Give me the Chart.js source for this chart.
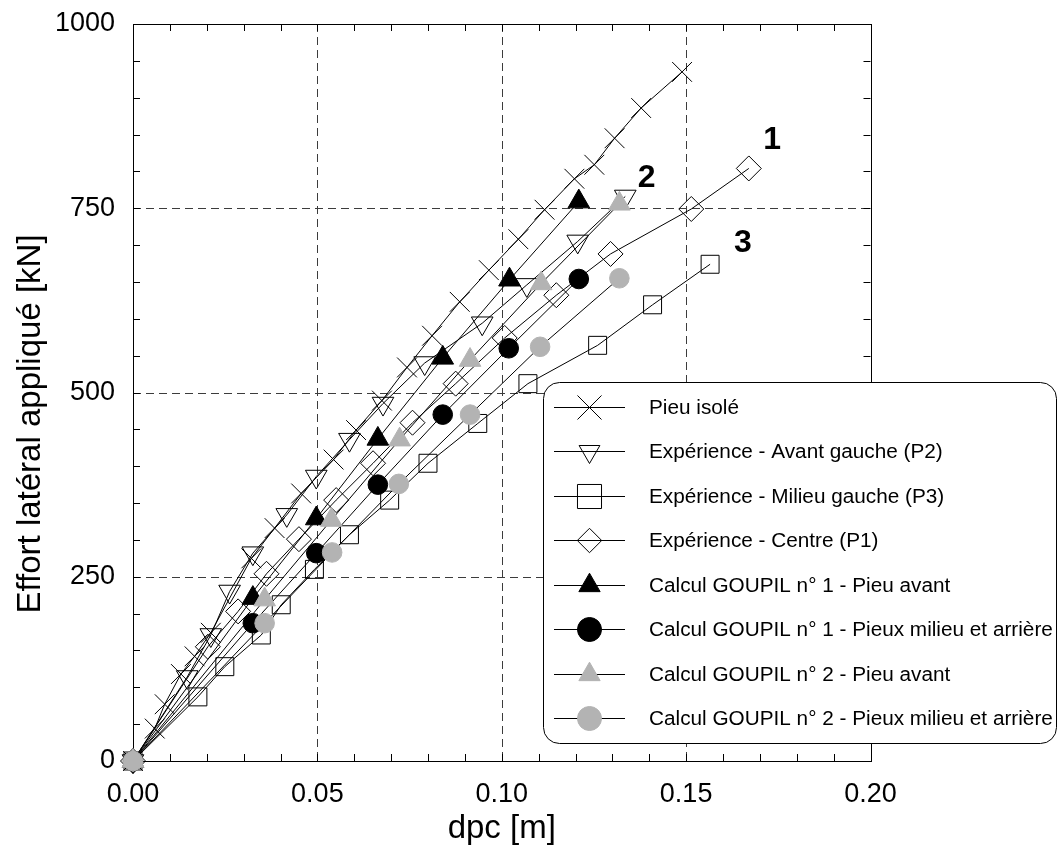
<!DOCTYPE html>
<html><head><meta charset="utf-8">
<script src="https://cdn.jsdelivr.net/npm/chart.js@4.4.0/dist/chart.umd.min.js"></script>
<style>html,body{margin:0;padding:0;background:#fff;}canvas{display:block;}</style>
</head><body>
<canvas id="c" width="1062" height="849"></canvas>
<script>
// ---- data ----
const seriesNames = [
  'Pieu isolé',
  'Expérience - Avant gauche (P2)',
  'Expérience - Milieu gauche (P3)',
  'Expérience - Centre (P1)',
  'Calcul GOUPIL n° 1 - Pieu avant',
  'Calcul GOUPIL n° 1 - Pieux milieu et arrière',
  'Calcul GOUPIL n° 2 - Pieu avant',
  'Calcul GOUPIL n° 2 - Pieux milieu et arrière'
];
const pieuIsoleX = [0, 0.0059, 0.0086, 0.0130, 0.0167, 0.0211, 0.0321, 0.0384, 0.0456, 0.0544, 0.0605, 0.0675, 0.0743, 0.0811, 0.0886, 0.0965, 0.1045, 0.1116, 0.1197, 0.1251, 0.1306, 0.1378, 0.1489];
const pieuIsoleY = [0, 44, 77, 118, 142, 174, 275, 316, 363, 409, 449, 489, 534, 577, 623, 666, 708, 748, 790, 809, 845, 886, 935];
const p2X = [0, 0.0147, 0.0211, 0.0262, 0.0325, 0.0417, 0.0497, 0.0587, 0.0678, 0.0791, 0.0947, 0.1068, 0.1206, 0.1335];
const p2Y = [0, 114, 171, 230, 282, 334, 386, 436, 485, 540, 594, 646, 705, 766];
const p3X = [0, 0.0176, 0.0249, 0.0348, 0.0402, 0.0492, 0.0587, 0.0696, 0.0800, 0.0935, 0.1071, 0.1260, 0.1409, 0.1565];
const p3Y = [0, 87, 128, 171, 212, 260, 307, 354, 404, 458, 512, 564, 619, 674];
const p1X = [0, 0.0203, 0.0285, 0.0362, 0.0450, 0.0551, 0.0651, 0.0758, 0.0875, 0.1008, 0.1148, 0.1295, 0.1514, 0.1670];
const p1Y = [0, 155, 203, 254, 301, 354, 404, 459, 512, 574, 632, 688, 749, 804];
const g1AvantX = [0, 0.0325, 0.0497, 0.0664, 0.0840, 0.1021, 0.1209];
const g1AvantY = [0, 221, 329, 437, 547, 653, 759];
const g1MilieuX = [0, 0.0325, 0.0497, 0.0664, 0.0840, 0.1019, 0.1209];
const g1MilieuY = [0, 187, 282, 375, 470, 560, 654];
const g2AvantX = [0, 0.0357, 0.0538, 0.0723, 0.0914, 0.1107, 0.1319];
const g2AvantY = [0, 219, 327, 436, 544, 648, 756];
const g2MilieuX = [0, 0.0357, 0.0540, 0.0721, 0.0914, 0.1104, 0.1319];
const g2MilieuY = [0, 187, 283, 376, 470, 562, 655];

const xTickValues = [0, 0.05, 0.10, 0.15, 0.20];
const yTickValues = [0, 250, 500, 750, 1000];
const xTitle = 'dpc [m]';
const yTitle = 'Effort latéral appliqué [kN]';

const curveLabels = ['1', '2', '3'];
const curveLabelX = [0.1733, 0.1393, 0.1654];
const curveLabelY = [843, 791, 703];

// ---- styles ----
const GRAY = '#b3b3b3';
const FONT = '"Liberation Sans", Arial, Helvetica, sans-serif';
const styles = [
  {pointStyle: 'crossRot', rotation: 0,   radius: 14,  fill: 'rgba(0,0,0,0)', stroke: '#000', lr: 17},
  {pointStyle: 'triangle', rotation: 180, radius: 12.5, fill: 'rgba(0,0,0,0)', stroke: '#000', lr: 12},
  {pointStyle: 'rect',     rotation: 0,   radius: 12.7, fill: 'rgba(0,0,0,0)', stroke: '#000', lr: 17},
  {pointStyle: 'rectRot',  rotation: 0,   radius: 12.5, fill: 'rgba(0,0,0,0)', stroke: '#000', lr: 12.2},
  {pointStyle: 'triangle', rotation: 0,   radius: 12.5, fill: '#000', stroke: '#000', lr: 12.3},
  {pointStyle: 'circle',   rotation: 0,   radius: 9.8,  fill: '#000', stroke: '#000', lr: 12},
  {pointStyle: 'triangle', rotation: 0,   radius: 12.5, fill: GRAY, stroke: GRAY, lr: 12.3},
  {pointStyle: 'circle',   rotation: 0,   radius: 9.8,  fill: GRAY, stroke: GRAY, lr: 12}
];

const seriesXs = [pieuIsoleX, p2X, p3X, p1X, g1AvantX, g1MilieuX, g2AvantX, g2MilieuX];
const seriesYs = [pieuIsoleY, p2Y, p3Y, p1Y, g1AvantY, g1MilieuY, g2AvantY, g2MilieuY];

const datasets = seriesNames.map((name, i) => ({
  label: name,
  data: seriesXs[i].map((x, k) => ({x: x, y: seriesYs[i][k]})),
  showLine: true,
  borderColor: '#000',
  borderWidth: 1,
  pointStyle: styles[i].pointStyle,
  pointRotation: styles[i].rotation,
  pointRadius: styles[i].radius,
  pointBackgroundColor: styles[i].fill,
  pointBorderColor: styles[i].stroke,
  pointBorderWidth: 1,
  fill: false,
  tension: 0,
  clip: false,
  order: 8 - i
}));

function drawMarker(ctx, st, x, y, r) {
  ctx.save();
  ctx.lineWidth = 1;
  ctx.strokeStyle = st.stroke;
  ctx.fillStyle = st.fill;
  ctx.beginPath();
  if (st.pointStyle === 'crossRot') {
    const d = r * Math.SQRT1_2;
    ctx.moveTo(x - d, y - d); ctx.lineTo(x + d, y + d);
    ctx.moveTo(x - d, y + d); ctx.lineTo(x + d, y - d);
    ctx.stroke();
  } else if (st.pointStyle === 'triangle') {
    let a = st.rotation * Math.PI / 180;
    for (let k = 0; k < 3; k++) {
      const px = x + Math.sin(a) * r, py = y - Math.cos(a) * r;
      if (k === 0) ctx.moveTo(px, py); else ctx.lineTo(px, py);
      a += 2 * Math.PI / 3;
    }
    ctx.closePath(); ctx.fill(); ctx.stroke();
  } else if (st.pointStyle === 'rect') {
    const s = r * Math.SQRT1_2;
    ctx.rect(x - s, y - s, 2 * s, 2 * s); ctx.fill(); ctx.stroke();
  } else if (st.pointStyle === 'rectRot') {
    ctx.moveTo(x - r, y); ctx.lineTo(x, y - r); ctx.lineTo(x + r, y); ctx.lineTo(x, y + r);
    ctx.closePath(); ctx.fill(); ctx.stroke();
  } else {
    ctx.arc(x, y, r, 0, 2 * Math.PI); ctx.fill(); ctx.stroke();
  }
  ctx.restore();
}

const framePlugin = {
  id: 'framePlugin',
  beforeDatasetsDraw(chart) {
    const {ctx, chartArea: a, scales: {x: xs, y: ys}} = chart;
    ctx.save();
    // dashed major grid
    ctx.strokeStyle = '#3c3c3c';
    ctx.lineWidth = 1;
    ctx.setLineDash([8, 5]);
    xTickValues.slice(1, -1).forEach(v => {
      const px = Math.round(xs.getPixelForValue(v)) + 0.5;
      ctx.beginPath(); ctx.moveTo(px, a.top); ctx.lineTo(px, a.bottom); ctx.stroke();
    });
    yTickValues.slice(1, -1).forEach(v => {
      const py = Math.round(ys.getPixelForValue(v)) + 0.5;
      ctx.beginPath(); ctx.moveTo(a.left, py); ctx.lineTo(a.right, py); ctx.stroke();
    });
    ctx.setLineDash([]);
    // minor inward ticks on all sides
    ctx.strokeStyle = '#000';
    const tl = 7;
    const xMin = xTickValues[0], xMax = xTickValues[xTickValues.length - 1];
    const yMin = yTickValues[0], yMax = yTickValues[yTickValues.length - 1];
    for (let k = 1; k < 20; k++) {
      const v = xMin + (xMax - xMin) * k / 20;
      const px = Math.round(xs.getPixelForValue(v)) + 0.5;
      ctx.beginPath();
      ctx.moveTo(px, a.bottom); ctx.lineTo(px, a.bottom - tl);
      ctx.moveTo(px, a.top); ctx.lineTo(px, a.top + tl);
      ctx.stroke();
    }
    for (let k = 1; k < 20; k++) {
      const v = yMin + (yMax - yMin) * k / 20;
      const py = Math.round(ys.getPixelForValue(v)) + 0.5;
      ctx.beginPath();
      ctx.moveTo(a.left, py); ctx.lineTo(a.left + tl, py);
      ctx.moveTo(a.right, py); ctx.lineTo(a.right - tl, py);
      ctx.stroke();
    }
    // frame
    ctx.strokeRect(Math.round(a.left) + 0.5, Math.round(a.top) + 0.5,
                   Math.round(a.right) - Math.round(a.left), Math.round(a.bottom) - Math.round(a.top));
    ctx.restore();
  },
  afterDraw(chart) {
    const {ctx, scales: {x: xs, y: ys}} = chart;
    ctx.save();
    // y axis title
    ctx.fillStyle = '#000';
    ctx.font = '33px ' + FONT;
    ctx.textAlign = 'center';
    ctx.textBaseline = 'middle';
    ctx.save();
    ctx.translate(31, 424);
    ctx.rotate(-Math.PI / 2);
    ctx.fillText(yTitle, 0, 0);
    ctx.restore();
    // curve labels
    ctx.font = 'bold 32px ' + FONT;
    curveLabels.forEach((t, i) => {
      ctx.fillText(t, xs.getPixelForValue(curveLabelX[i]), ys.getPixelForValue(curveLabelY[i]));
    });
    // legend box
    const bx = 543.5, by = 382.5, bw = 513, bh = 361, rr = 16;
    ctx.beginPath();
    ctx.moveTo(bx + rr, by);
    ctx.lineTo(bx + bw - rr, by); ctx.arcTo(bx + bw, by, bx + bw, by + rr, rr);
    ctx.lineTo(bx + bw, by + bh - rr); ctx.arcTo(bx + bw, by + bh, bx + bw - rr, by + bh, rr);
    ctx.lineTo(bx + rr, by + bh); ctx.arcTo(bx, by + bh, bx, by + bh - rr, rr);
    ctx.lineTo(bx, by + rr); ctx.arcTo(bx, by, bx + rr, by, rr);
    ctx.closePath();
    ctx.fillStyle = '#fff'; ctx.fill();
    ctx.strokeStyle = '#000'; ctx.lineWidth = 1; ctx.stroke();
    // fit legend font so that the longest entry is ~404px wide
    ctx.font = '21px ' + FONT;
    const longest = Math.max(...seriesNames.map(n => ctx.measureText(n).width));
    const fs = Math.min(21, 21 * 404 / longest);
    ctx.font = fs.toFixed(2) + 'px ' + FONT;
    ctx.textAlign = 'left';
    ctx.textBaseline = 'middle';
    seriesNames.forEach((name, i) => {
      const yy = Math.round(406.7 + i * 44.5) + 0.5;
      ctx.strokeStyle = '#000'; ctx.lineWidth = 1;
      ctx.beginPath(); ctx.moveTo(554, yy); ctx.lineTo(625, yy); ctx.stroke();
      drawMarker(ctx, styles[i], 589.5, yy, styles[i].lr);
      ctx.fillStyle = '#000';
      ctx.fillText(name, 649, yy + 1);
    });
    ctx.restore();
  }
};

new Chart(document.getElementById('c'), {
  type: 'scatter',
  data: {datasets: datasets},
  options: {
    responsive: false,
    animation: false,
    devicePixelRatio: 1,
    layout: {padding: {left: 0, top: 24, right: 191.5, bottom: 0}},
    plugins: {legend: {display: false}, tooltip: {enabled: false}},
    scales: {
      x: {
        type: 'linear', min: xTickValues[0], max: xTickValues[xTickValues.length - 1],
        afterBuildTicks: s => { s.ticks = xTickValues.map(v => ({value: v})); },
        afterFit: s => { s.height = 88; s.paddingRight = 0; s.paddingLeft = 0; },
        grid: {display: false, drawTicks: false},
        border: {display: false},
        ticks: {
          autoSkip: false, maxRotation: 0, padding: 17, color: '#000',
          font: {family: FONT, size: 27},
          callback: v => Number(v).toFixed(2)
        },
        title: {display: true, text: xTitle, color: '#000', font: {family: FONT, size: 33}, padding: {top: 0, bottom: 0}}
      },
      y: {
        type: 'linear', min: yTickValues[0], max: yTickValues[yTickValues.length - 1],
        afterBuildTicks: s => { s.ticks = yTickValues.map(v => ({value: v})); },
        afterFit: s => { s.width = 133; s.paddingTop = 0; s.paddingBottom = 0; },
        grid: {display: false, drawTicks: false},
        border: {display: false},
        ticks: {
          autoSkip: false, padding: 18, color: '#000',
          font: {family: FONT, size: 27},
          callback: v => String(v)
        },
        title: {display: false}
      }
    }
  },
  plugins: [framePlugin]
});
</script>
</body></html>
